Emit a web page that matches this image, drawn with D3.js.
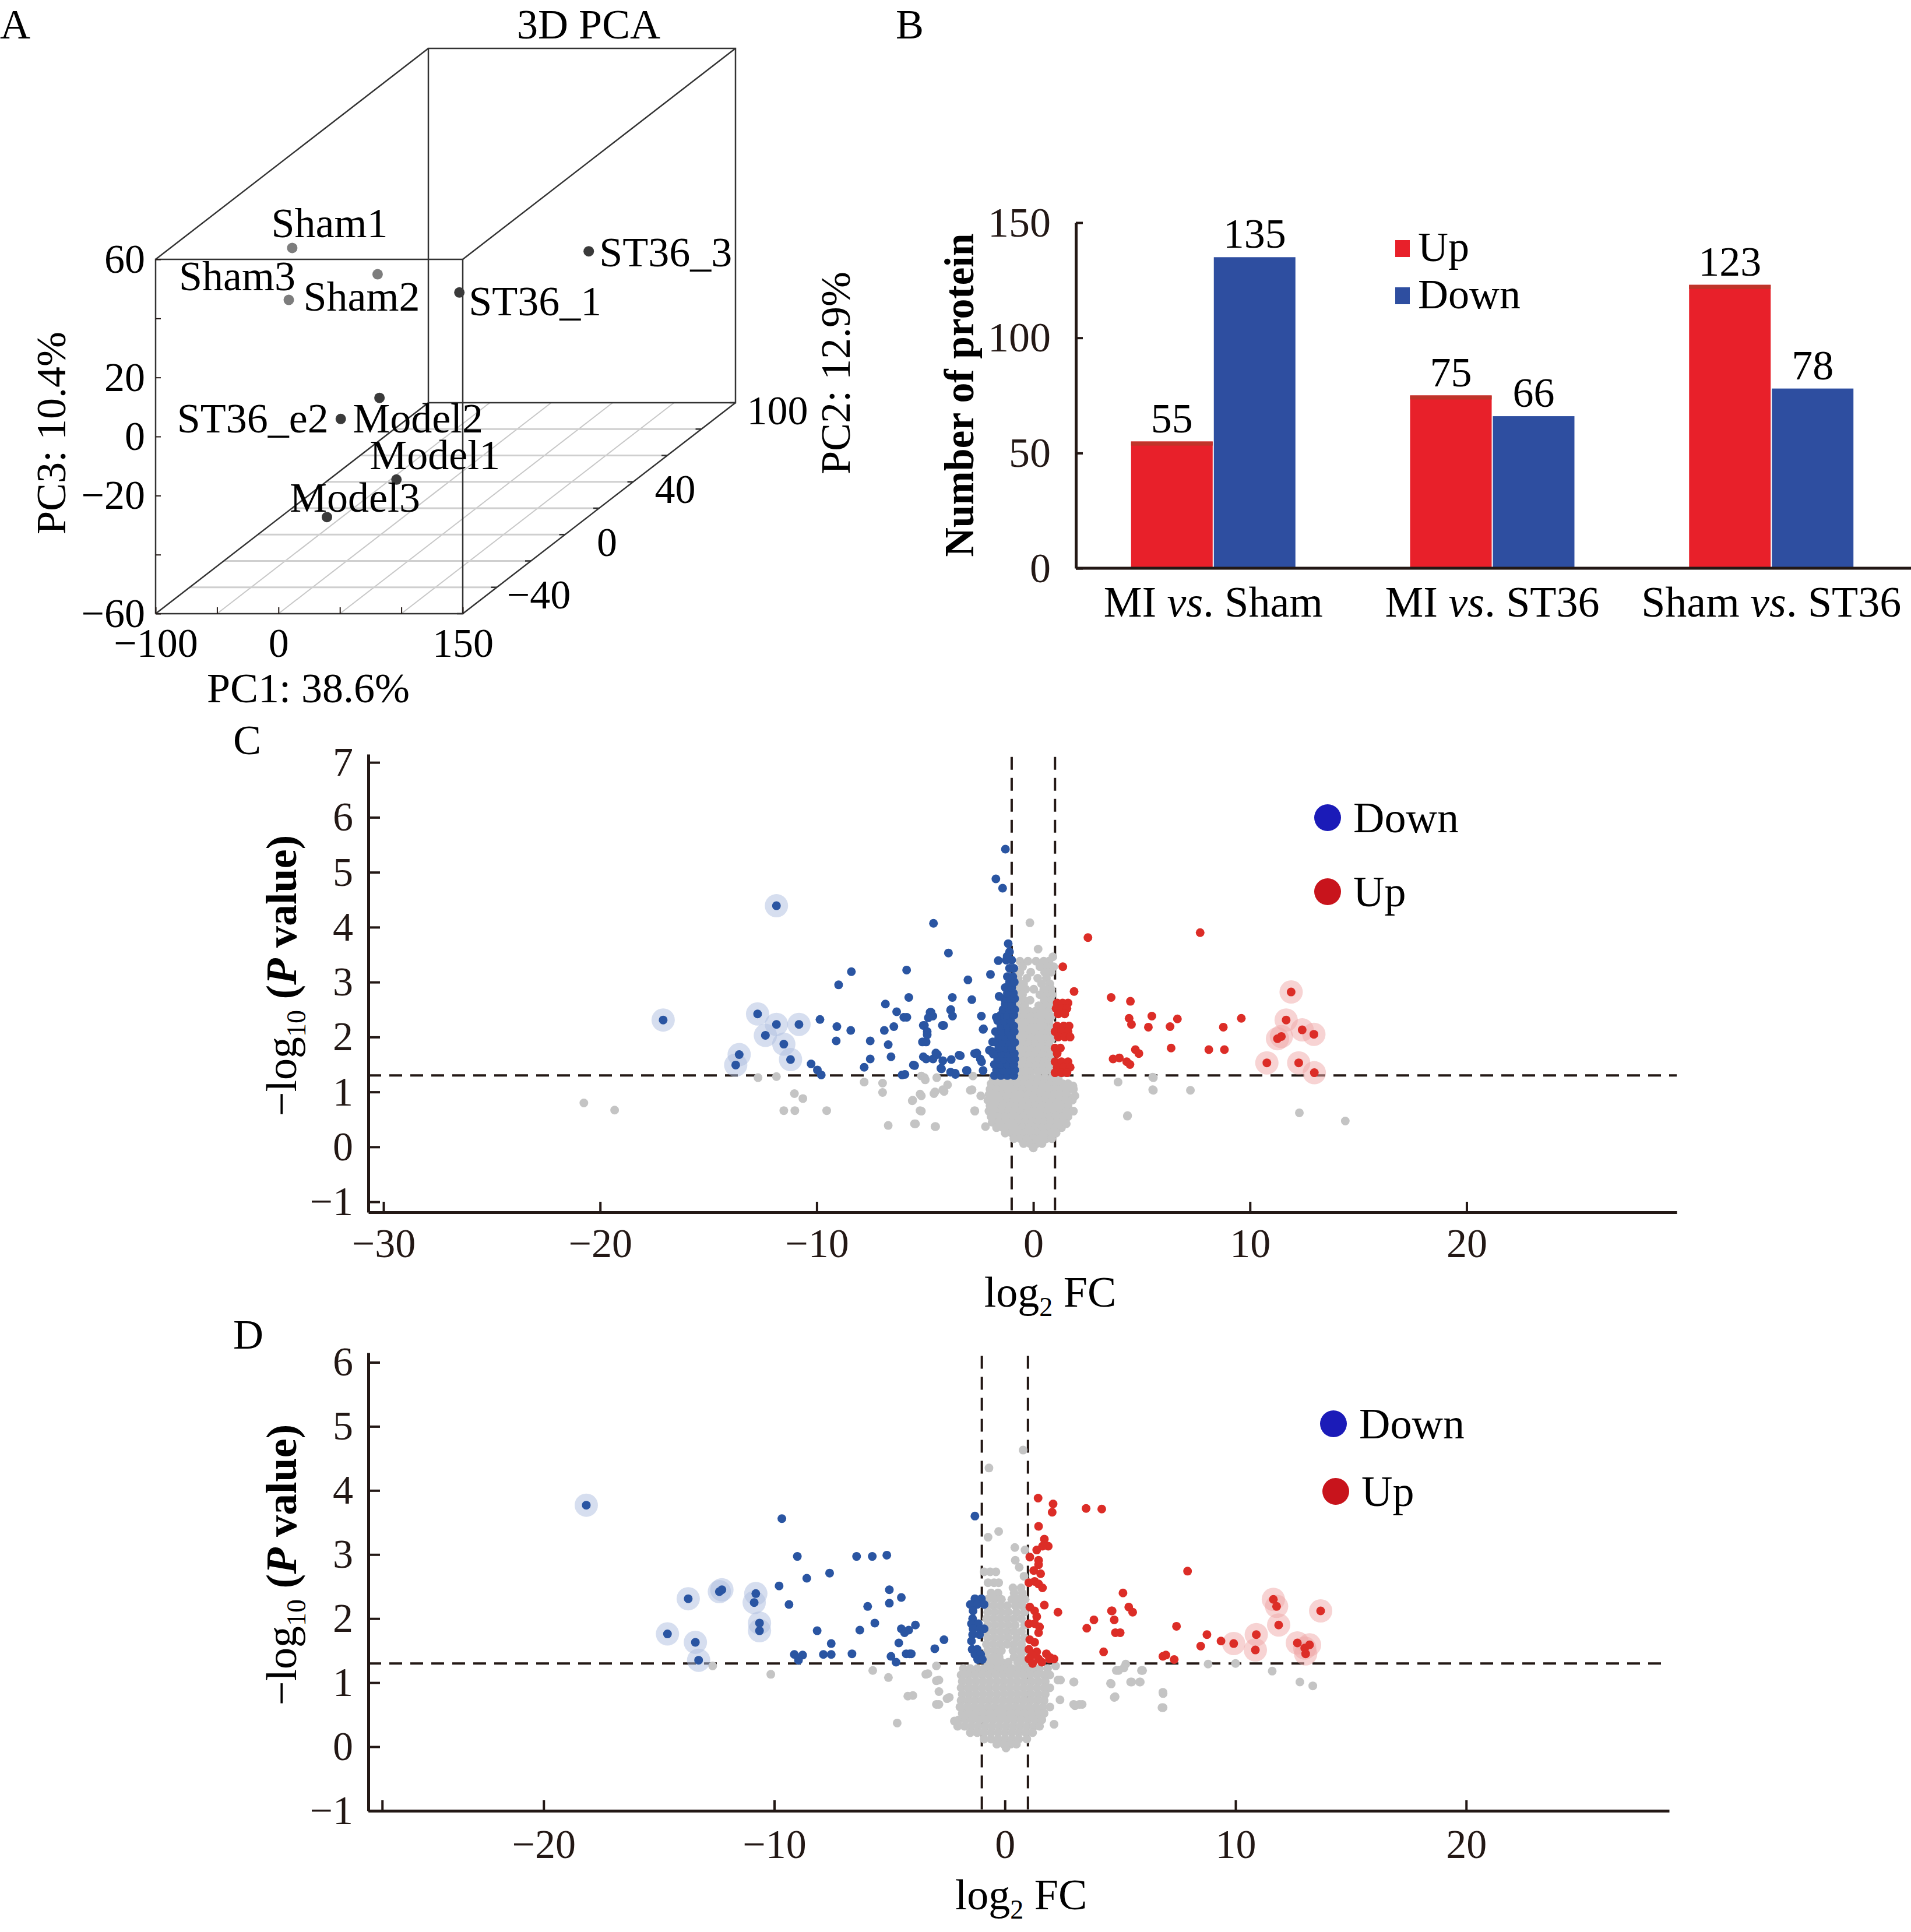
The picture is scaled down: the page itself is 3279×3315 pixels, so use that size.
<!DOCTYPE html>
<html><head><meta charset="utf-8">
<script src="https://cdn.jsdelivr.net/npm/d3@7"></script>
<style>body{margin:0;background:#fff}svg{display:block}</style>
</head><body>
<svg id="c" width="3279" height="3315"></svg>
<script>
// ================= DATA =================
// Panel A: 3D PCA
const pcaSamples = ["Sham1","Sham2","Sham3","ST36_1","ST36_3","Model2","ST36_e2","Model1","Model3"];
const pcaGroups  = ["Sham","Sham","Sham","ST36","ST36","Model","ST36","Model","Model"];
const pc1Values  = [-44.3,-47.1,25.2,64.0,58.3,40.6,-4.8,68.3,11.7];
const pc2Values  = [-20,-20,-20,0,80,-30,-20,-40,-40];
const pc3Values  = [46.0,28.4,37.1,22.0,0.2,-0.3,-11.9,-23.5,-36.2];
const pc1Ticks = [-100,-50,0,50,100,150], pc1Labeled = [-100,0,150];
const pc2Ticks = [-60,-40,-20,0,20,40,60,80,100], pc2Labeled = [-40,0,40,100];
const pc3Ticks = [-60,-40,-20,0,20,40,60], pc3Labeled = [-60,-20,0,20,60];

// Panel B: bar chart
const comparisons = ["MI vs. Sham","MI vs. ST36","Sham vs. ST36"];
const regulation = ["Up","Down"];
const upCounts = [55,75,123];
const downCounts = [135,66,78];
const barTicks = [0,50,100,150];

// Panel C: volcano (log2FC, -log10 P)
const blueHaloC = [[-17.09,2.31],[-11.86,4.39],[-12.73,2.42],[-11.86,2.23],[-10.82,2.23],[-12.37,2.03],[-11.52,1.87],[-11.21,1.59],[-13.58,1.68],[-13.74,1.49]];
const blueC = [[-1.29,5.42],[-1.73,4.88],[-1.42,4.71],[-4.61,4.07],[-3.92,3.53],[-1.16,3.70],[-8.40,3.19],[-5.85,3.22],[-8.99,2.95],[-3.02,3.04],[-1.98,3.14],[-1.62,3.39],[-1.21,3.47],[-5.75,2.72],[-6.83,2.60],[-2.84,2.68],[-3.74,2.72],[-3.81,2.50],[-6.31,2.46],[-5.98,2.36],[-9.85,2.32],[-9.07,2.19],[-8.43,2.12],[-6.88,2.12],[-6.44,2.19],[-5.03,2.21],[-4.64,2.38],[-4.77,2.45],[-4.20,2.21],[-4.90,2.04],[-2.32,2.14],[-2.40,2.38],[-9.10,1.93],[-7.53,1.93],[-6.70,1.86],[-4.95,1.91],[-1.88,1.91],[-7.53,1.60],[-6.57,1.64],[-7.81,1.45],[-4.95,1.60],[-4.43,1.68],[-4.18,1.57],[-3.43,1.67],[-3.79,1.59],[-5.54,1.49],[-6.06,1.31],[-4.24,1.42],[-3.61,1.34],[-3.09,1.39],[-2.71,1.70],[-2.45,1.60],[-1.93,1.74],[-10.26,1.51],[-9.97,1.40],[-9.79,1.31],[-2.32,1.39],[-4.72,2.45],[-4.85,2.35],[-5.08,2.21],[-4.90,2.10],[-4.14,2.21],[-5.12,1.91],[-5.84,2.36],[-2.30,2.15],[-1.71,2.36],[-5.08,1.64],[-4.63,1.60],[-4.50,1.71],[-4.27,1.43],[-3.82,1.36],[-3.60,1.32],[-3.37,1.66],[-3.06,1.39],[-2.61,1.71],[-2.39,1.55],[-2.03,1.76],[-1.85,1.69],[-5.48,1.48],[-5.93,1.32],[-3.82,2.49],[-3.73,2.38],[-1.58,2.74]];
const blueColumnC = [[1.30,-1.8,-1.5,-1.2,-0.9],[1.40,-1.7,-1.4,-1.1,-0.86],[1.50,-1.8,-1.5,-1.2,-0.9],[1.60,-1.65,-1.35,-1.05,-0.86],[1.70,-1.75,-1.45,-1.15,-0.88],[1.80,-1.6,-1.3,-1.0],[1.90,-1.7,-1.4,-1.1,-0.86],[2.00,-1.6,-1.3,-1.0],[2.10,-1.75,-1.45,-1.15,-0.88],[2.20,-1.5,-1.2,-0.9],[2.30,-1.65,-1.35,-1.05],[2.40,-1.5,-1.2,-0.9],[2.50,-1.4,-1.1,-0.86],[2.60,-1.3,-1.0],[2.70,-1.35,-1.05,-0.86],[2.80,-1.2,-0.92],[2.90,-1.3,-1.0],[3.00,-1.1,-0.88],[3.10,-1.2,-0.95],[3.25,-1.1,-0.9],[3.40,-1.25,-1.0],[3.55,-1.1]];
const redHaloC = [[11.90,2.82],[11.67,2.31],[11.27,1.97],[11.45,2.01],[12.41,2.13],[12.95,2.05],[10.78,1.53],[12.25,1.53],[12.97,1.35]];
const redC = [[2.52,3.81],[7.70,3.90],[1.36,3.28],[1.88,2.83],[3.59,2.72],[4.48,2.65],[4.42,2.34],[4.53,2.23],[5.47,2.38],[5.31,2.18],[6.31,2.19],[6.65,2.33],[8.77,2.18],[9.60,2.34],[6.36,1.80],[8.10,1.77],[8.82,1.77],[4.71,1.77],[4.87,1.70],[3.68,1.60],[3.97,1.62],[4.31,1.55],[4.46,1.50]];
const redColumnC = [[2.62,1.1,1.35,1.6],[2.52,1.05,1.3,1.55],[2.42,1.15,1.45],[2.20,1.1,1.4,1.65],[2.10,1.0,1.3,1.6],[2.00,1.15,1.45,1.7],[1.80,1.0,1.25],[1.70,1.1],[1.55,1.0,1.3,1.6],[1.45,1.1,1.4,1.7],[1.35,1.0,1.3,1.55]];
const grayC = [[-20.75,0.80],[-19.33,0.67],[-12.71,1.26],[-11.86,1.28],[-11.03,0.97],[-10.64,0.88],[-11.52,0.66],[-11.01,0.66],[-9.54,0.66],[-7.81,1.18],[-6.96,1.16],[-6.96,0.99],[-6.70,0.39],[-5.49,0.42],[-5.59,0.84],[-5.23,0.96],[-5.23,0.66],[-4.51,0.37],[-4.59,0.97],[-4.12,1.01],[-5.03,1.26],[-4.46,1.26],[-2.91,1.03],[-2.71,0.66],[3.91,1.18],[5.54,1.26],[5.54,1.03],[7.25,1.03],[4.35,0.57],[12.28,0.62],[14.40,0.47],[-5.17,1.29],[-4.99,1.22],[-4.54,1.00],[-4.18,1.04],[-3.96,1.13],[-5.17,0.93],[-5.57,0.85],[-5.17,0.65],[-5.44,0.42],[-4.54,0.37],[-2.79,1.29],[-2.83,1.04],[-2.43,0.93],[-2.70,0.65],[-2.21,0.37],[1.83,1.11],[1.92,0.93],[1.56,0.65],[1.83,0.65],[1.52,0.42],[5.51,1.27],[5.51,1.04],[4.34,0.56]];
const grayCloudC = [[4.08,-0.16],[3.60,0.22],[3.46,0.9],[3.38,-0.62,-0.25,0.12,0.48,0.72],[3.28,-0.5,0.3,0.62,0.94],[3.18,-0.62,-0.12,0.52,0.82],[3.07,-0.7,-0.3,0.2,0.6],[2.97,-0.76,-0.45,0.38,0.76],[2.87,-0.72,-0.35,0.02,0.48,0.82],[2.77,-0.76,-0.5,0.3,0.62,0.86],[2.67,-0.8,-0.45,-0.15,0.5,0.8],[2.57,-0.75,-0.4,0.25,0.6,0.85],[2.47,-0.8,-0.5,-0.2,0.1,0.4,0.7],[2.37,-0.76,-0.45,-0.12,0.2,0.55,0.82],[2.27,-0.8,-0.5,-0.2,0.12,0.42,0.72],[2.17,-0.76,-0.44,-0.1,0.22,0.55,0.84],[2.07,-0.8,-0.5,-0.2,0.1,0.4,0.7],[1.97,-0.76,-0.44,-0.12,0.2,0.52,0.84],[1.87,-0.8,-0.5,-0.2,0.1,0.42,0.72],[1.77,-0.76,-0.46,-0.14,0.2,0.52,0.84],[1.67,-0.8,-0.5,-0.2,0.12,0.42,0.74],[1.57,-0.76,-0.44,-0.12,0.22,0.54,0.84],[1.47,-0.8,-0.5,-0.2,0.1,0.42,0.72],[1.37,-0.78,-0.46,-0.14,0.2,0.52,0.84],[1.25,-1.85,-1.55,-1.25,-0.95,-0.65,-0.35,-0.05,0.25,0.55,0.85,1.15],[1.15,-1.95,-1.65,-1.35,-1.05,-0.75,-0.45,-0.15,0.15,0.45,0.75,1.05,1.35,1.6],[1.05,-2.0,-1.7,-1.4,-1.1,-0.8,-0.5,-0.2,0.1,0.4,0.7,1.0,1.3,1.6,1.85],[0.95,-2.05,-1.75,-1.45,-1.15,-0.85,-0.55,-0.25,0.05,0.35,0.65,0.95,1.25,1.55],[0.85,-2.1,-1.8,-1.5,-1.2,-0.9,-0.6,-0.3,0.0,0.3,0.6,0.9,1.2,1.5,1.8],[0.75,-2.0,-1.7,-1.4,-1.1,-0.8,-0.5,-0.2,0.1,0.4,0.7,1.0,1.3,1.6],[0.65,-2.05,-1.75,-1.45,-1.15,-0.85,-0.55,-0.25,0.05,0.35,0.65,0.95,1.25,1.55,1.85],[0.55,-1.95,-1.65,-1.35,-1.05,-0.75,-0.45,-0.15,0.15,0.45,0.75,1.05,1.35,1.6],[0.45,-1.9,-1.6,-1.3,-1.0,-0.7,-0.4,-0.1,0.2,0.5,0.8,1.1,1.4],[0.35,-1.7,-1.4,-1.1,-0.8,-0.5,-0.2,0.1,0.4,0.7,1.0,1.3],[0.25,-1.3,-1.0,-0.7,-0.4,-0.1,0.2,0.5,0.8,1.05],[0.15,-0.9,-0.6,-0.3,0.0,0.3,0.6,0.85],[0.06,-0.45,-0.15,0.15,0.4],[-0.02,0.0]];
const xTicksC = [-30,-20,-10,0,10,20], yTicksC = [-1,0,1,2,3,4,5,6,7];

// Panel D: volcano
const blueHaloD = [[-18.15,3.77],[-13.73,2.31],[-12.38,2.42],[-12.27,2.45],[-10.80,2.39],[-10.87,2.25],[-14.63,1.76],[-13.42,1.63],[-13.28,1.35],[-10.64,1.93],[-10.64,1.81]];
const blueD = [[-9.67,3.56],[-9.00,2.97],[-7.60,2.71],[-8.59,2.63],[-6.43,2.97],[-5.75,2.97],[-5.12,2.99],[-9.79,2.51],[-9.36,2.22],[-5.01,2.45],[-4.49,2.33],[-5.01,2.24],[-5.95,2.19],[-5.64,1.93],[-6.29,1.82],[-8.14,1.81],[-4.49,1.84],[-4.17,1.82],[-3.88,1.90],[-4.60,1.62],[-7.53,1.61],[-7.53,1.44],[-7.87,1.44],[-9.13,1.44],[-8.77,1.43],[-8.95,1.35],[-6.63,1.45],[-4.94,1.41],[-4.72,1.32],[-4.28,1.45],[-4.06,1.45],[-3.04,1.53],[-2.64,1.67],[-1.30,3.60],[-4.13,1.45],[-4.35,1.78]];
const blueColumnD = [[2.31,-1.3,-1.02],[2.22,-1.5,-1.2,-0.9],[2.12,-1.38],[2.00,-1.4],[1.92,-1.45,-1.15],[1.84,-1.38,-1.08,-0.9],[1.75,-1.4,-1.1],[1.65,-1.45],[1.52,-1.42,-1.2],[1.44,-1.3,-1.05],[1.36,-1.18,-0.98]];
const redHaloD = [[9.92,1.61],[10.90,1.75],[10.86,1.51],[11.64,2.30],[11.78,2.19],[11.87,1.90],[13.69,2.12],[12.68,1.62],[13.00,1.54],[13.21,1.59],[13.04,1.45]];
const redD = [[1.44,3.88],[2.09,3.79],[2.05,3.66],[3.52,3.72],[4.20,3.71],[1.46,3.44],[1.71,3.24],[1.88,3.13],[1.63,3.13],[1.38,3.07],[1.08,2.96],[1.46,2.91],[1.46,2.84],[1.04,2.56],[1.29,2.58],[1.46,2.54],[1.63,2.48],[1.71,2.21],[2.30,2.10],[1.08,2.18],[1.29,2.12],[1.38,2.03],[1.04,1.92],[1.29,1.92],[1.50,1.87],[1.46,1.78],[1.08,1.67],[1.29,1.63],[1.04,1.52],[1.38,1.48],[1.80,1.45],[1.97,1.39],[2.13,1.37],[1.04,1.37],[1.46,1.37],[1.17,1.43],[3.55,1.85],[3.86,1.98],[4.62,2.12],[4.74,1.98],[4.79,1.78],[5.00,1.78],[5.12,2.40],[5.37,2.18],[5.54,2.10],[4.28,1.48],[6.85,1.41],[7.92,2.74],[7.44,1.88],[8.76,1.75],[8.49,1.57],[9.37,1.65],[6.98,1.43],[7.34,1.36],[1.93,1.37],[4.65,2.12],[1.20,1.30],[1.60,1.32],[1.25,2.75],[1.55,2.70]];
const grayD = [[0.79,4.63],[-0.69,4.35],[-0.27,3.36],[-0.73,3.27],[0.43,3.11],[0.87,3.07],[0.45,2.91],[0.62,2.80],[0.83,2.66],[8.81,1.29],[10.0,1.30],[11.59,1.18],[12.79,1.01],[13.35,0.95],[4.93,1.19],[5.24,1.29],[5.97,1.19],[5.45,1.01],[5.87,1.01],[4.61,0.98],[4.78,0.78],[3.0,1.01],[6.86,0.83],[6.86,0.61],[3.04,0.64],[3.35,0.66],[2.2,1.26],[2.41,1.04],[-12.67,1.26],[-10.15,1.13],[-5.73,1.19],[-5.05,1.08],[-4.67,0.37],[-3.99,0.80],[-3.43,1.13],[-2.86,1.04],[-2.86,0.86],[-2.41,0.77],[-2.86,0.66],[-2.19,0.40],[-1.74,0.49],[-1.74,1.13],[-1.56,0.92],[-3.34,1.14],[-2.97,1.26],[-2.97,1.03],[-4.21,0.79],[-2.97,0.66],[-2.51,0.75],[-2.08,0.39],[2.98,1.01],[2.98,0.66],[3.23,0.66],[2.39,0.73],[2.30,1.04],[2.13,0.35],[4.83,1.19],[5.16,1.23],[5.92,1.19],[4.58,0.99],[5.50,1.01],[5.84,1.01],[4.74,0.77],[6.85,0.85],[6.81,0.61]];
const grayCloudD = [[2.73,-0.9,-0.64,-0.39],[2.56,-0.73,-0.47,-0.27],[2.48,0.35,0.7],[2.40,-0.6,-0.3,0.4,0.75],[2.30,-0.75,-0.45,-0.15,0.3,0.6,0.88],[2.20,-0.8,-0.5,-0.2,0.1,0.45,0.75],[2.10,-0.75,-0.45,-0.15,0.15,0.5,0.85],[2.00,-0.8,-0.5,-0.2,0.1,0.4,0.72],[1.90,-0.75,-0.45,-0.15,0.15,0.45,0.85],[1.80,-0.8,-0.5,-0.2,0.1,0.4,0.72],[1.70,-0.75,-0.45,-0.15,0.15,0.5,0.85],[1.60,-0.8,-0.5,-0.2,0.1,0.4,0.72],[1.50,-0.75,-0.45,-0.15,0.35,0.65,0.88],[1.40,-0.8,-0.5,-0.25,0.4,0.7],[1.32,-0.75,-0.45,-0.15,0.15,0.55,0.85],[1.22,-1.8,-1.5,-1.2,-0.9,-0.6,-0.3,0.0,0.3,0.6,0.9,1.2,1.5,1.85],[1.12,-1.9,-1.6,-1.3,-1.0,-0.7,-0.4,-0.1,0.2,0.5,0.8,1.1,1.4,1.7,1.95],[1.02,-1.85,-1.55,-1.25,-0.95,-0.65,-0.35,-0.05,0.25,0.55,0.85,1.15,1.45,1.75],[0.92,-1.9,-1.6,-1.3,-1.0,-0.7,-0.4,-0.1,0.2,0.5,0.8,1.1,1.4,1.7,1.95],[0.82,-1.85,-1.55,-1.25,-0.95,-0.65,-0.35,-0.05,0.25,0.55,0.85,1.15,1.45,1.75],[0.72,-1.9,-1.6,-1.3,-1.0,-0.7,-0.4,-0.1,0.2,0.5,0.8,1.1,1.4,1.7],[0.62,-1.95,-1.65,-1.35,-1.05,-0.75,-0.45,-0.15,0.15,0.45,0.75,1.05,1.35,1.65,1.95],[0.52,-1.85,-1.55,-1.25,-0.95,-0.65,-0.35,-0.05,0.25,0.55,0.85,1.15,1.45,1.7],[0.42,-2.0,-1.7,-1.4,-1.1,-0.8,-0.5,-0.2,0.1,0.4,0.7,1.0,1.3,1.6],[0.32,-2.05,-1.75,-1.45,-1.15,-0.85,-0.55,-0.25,0.05,0.35,0.65,0.95,1.25,1.5],[0.22,-1.5,-1.2,-0.9,-0.6,-0.3,0.0,0.3,0.6,0.9,1.2],[0.12,-0.9,-0.6,-0.3,0.0,0.3,0.6,0.95],[0.04,-0.35,-0.05,0.25,0.5],[-0.02,0.05]];
const xTicksD = [-27,-20,-10,0,10,20], xLabeledD = [-20,-10,0,10,20], yTicksD = [-1,0,1,2,3,4,5,6];
const fcCut = 1, pCut = 1.3;

// ================= STYLE / LAYOUT =================
const FONT = '"Liberation Serif","Times New Roman",Times,serif';
const INK = "#231815";
const FS = 70;
const svg = d3.select("#c");
const fmt = d3.format("d");
const rowsToPoints = rows => rows.flatMap(([yv,...xs]) => xs.map(xv => [xv,yv]));

function txt(g, x, y, s, o={}) {
  return g.append("text").attr("x",x).attr("y",y).text(s)
    .attr("font-family",FONT).attr("font-size",o.size||FS).attr("fill",o.fill||"#000")
    .attr("text-anchor",o.anchor||"start").attr("font-weight",o.weight||"normal")
    .attr("font-style",o.style||"normal");
}
function styleAxis(g, w) {
  g.attr("font-family",FONT).attr("font-size",FS);
  g.selectAll("text").attr("fill",INK).attr("font-size",FS);
  g.selectAll(".domain").attr("stroke",INK).attr("stroke-width",w);
  g.selectAll(".tick line").attr("stroke",INK).attr("stroke-width",w*0.8);
}

// ================= PANEL A =================
(function(){
  const g = svg.append("g");
  const x = d3.scaleLinear([-100,150],[267,794]);
  const z = d3.scaleLinear([-60,60],[1053,445]);
  const d = d3.scaleLinear([-60,100],[0,1]);
  const depth = [468,-362];
  const P = (a,b,c) => { const f = d(b); return [x(a)+f*depth[0], z(c)+f*depth[1]]; };
  const [x0,x1] = x.domain(), [y0,y1] = d.domain(), [z0,z1] = z.domain();
  const line = d3.line();
  // floor grid
  pc1Ticks.filter(v=>v>x0&&v<x1).forEach(v=>{
    g.append("path").attr("d",line([P(v,y0,z0),P(v,y1,z0)])).attr("stroke","#c8c8c8").attr("stroke-width",2).attr("fill","none");
  });
  pc2Ticks.filter(v=>v>y0&&v<y1).forEach(v=>{
    g.append("path").attr("d",line([P(x0,v,z0),P(x1,v,z0)])).attr("stroke","#cfcfcf").attr("stroke-width",3).attr("fill","none");
  });
  // box
  const faces = [
    [[x0,y0,z0],[x1,y0,z0],[x1,y0,z1],[x0,y0,z1],[x0,y0,z0]],
    [[x0,y1,z0],[x1,y1,z0],[x1,y1,z1],[x0,y1,z1],[x0,y1,z0]],
    [[x0,y0,z0],[x0,y1,z0]],[[x1,y0,z0],[x1,y1,z0]],[[x0,y0,z1],[x0,y1,z1]],[[x1,y0,z1],[x1,y1,z1]]
  ];
  faces.forEach(f=>g.append("path").attr("d",line(f.map(p=>P(...p)))).attr("stroke","#333").attr("stroke-width",2.5).attr("fill","none"));
  // axes
  g.append("g").attr("transform",`translate(${x(x0)},0)`)
    .call(d3.axisLeft(z).tickValues(pc3Ticks).tickSize(-9).tickSizeOuter(0).tickPadding(18)
      .tickFormat(v=>pc3Labeled.includes(v)?fmt(v):""))
    .call(a=>a.select(".domain").remove()).call(a=>styleAxis(a,2.5));
  g.append("g").attr("transform",`translate(0,${z(z0)})`)
    .call(d3.axisBottom(x).tickValues(pc1Ticks).tickSize(-11).tickSizeOuter(0).tickPadding(24)
      .tickFormat(v=>pc1Labeled.includes(v)?fmt(v):""))
    .call(a=>a.select(".domain").remove()).call(a=>styleAxis(a,2.5));
  g.selectAll("g text").attr("fill","#000");
  pc2Ticks.forEach(v=>{
    const p = P(x1,v,z0);
    g.append("line").attr("x1",p[0]).attr("y1",p[1]).attr("x2",p[0]-10).attr("y2",p[1]).attr("stroke","#333").attr("stroke-width",2.5);
    if (pc2Labeled.includes(v)) txt(g,p[0]+72,p[1]+13,fmt(v),{anchor:"middle"}).attr("dominant-baseline","central");
  });
  // points
  const labelPlacement = [["start",-36,-18],["start",25,18],["end",-141,27],["start",16,39],["start",18,26],["start",-46,59],["end",-21,23],["start",-46,-18],["start",-64,-9]];
  pcaSamples.forEach((s,i)=>{
    const p = P(pc1Values[i],pc2Values[i],pc3Values[i]);
    g.append("circle").attr("cx",p[0]).attr("cy",p[1]).attr("r",9).attr("fill",pcaGroups[i]==="Sham"?"#7d7d7d":"#3a3a3a");
  });
  pcaSamples.forEach((s,i)=>{
    const p = P(pc1Values[i],pc2Values[i],pc3Values[i]);
    const [an,dx,dy] = labelPlacement[i];
    txt(g,p[0]+dx,p[1]+dy,s,{anchor:an,size:72});
  });
  txt(g,0,66,"A",{size:72});
  txt(g,1010,66,"3D PCA",{anchor:"middle",size:72});
  txt(g,529,1205,"PC1: 38.6%",{anchor:"middle",size:72});
  txt(g,0,0,"PC3: 10.4%",{anchor:"middle",size:72}).attr("transform","translate(112,743) rotate(-90)").attr("x",0).attr("y",0);
  txt(g,0,0,"PC2: 12.9%",{anchor:"middle",size:72}).attr("transform","translate(1458,640) rotate(-90)").attr("x",0).attr("y",0);
})();

// ================= PANEL B =================
(function(){
  const g = svg.append("g");
  const x0 = d3.scaleBand(comparisons,[1744,3377]).padding(0.411);
  const x1 = d3.scaleBand(regulation,[0,x0.bandwidth()]).paddingInner(0.014);
  const y = d3.scaleLinear([0,150],[975,382]);
  const colors = {Up:"#e8202a",Down:"#2e4ea0"};
  const rows = comparisons.map((c,i)=>({c, Up:upCounts[i], Down:downCounts[i]}));
  rows.forEach(r=>{
    regulation.forEach(k=>{
      const bx = x0(r.c)+x1(k);
      g.append("rect").attr("x",bx).attr("y",y(r[k])).attr("width",x1.bandwidth()).attr("height",y(0)-y(r[k])).attr("fill",colors[k]);
      if(k==="Up") g.append("rect").attr("x",bx).attr("y",y(r[k])).attr("width",x1.bandwidth()).attr("height",7).attr("fill","#c0342a");
      txt(g,bx+x1.bandwidth()/2,y(r[k])-16,String(r[k]),{anchor:"middle",size:72});
    });
  });
  g.append("g").attr("transform","translate(1846,0)")
    .call(d3.axisLeft(y).tickValues(barTicks).tickSize(-12).tickSizeOuter(0).tickPadding(43).tickFormat(fmt))
    .call(a=>styleAxis(a,5)).call(a=>a.selectAll("text").attr("font-size",72));
  g.append("line").attr("x1",1846).attr("x2",3279).attr("y1",y(0)).attr("y2",y(0)).attr("stroke",INK).attr("stroke-width",5);
  comparisons.forEach(c=>{
    const parts = c.split(" vs. ");
    const t = txt(g,x0(c)+x0.bandwidth()/2,1058,"",{anchor:"middle",size:74});
    t.append("tspan").text(parts[0]+" ");
    t.append("tspan").attr("font-style","italic").text("vs");
    t.append("tspan").text(". "+parts[1]);
  });
  txt(g,0,0,"Number of protein",{anchor:"middle",size:72,weight:"bold"})
    .attr("transform","translate(1670,678) rotate(-90)").attr("textLength",555).attr("lengthAdjust","spacingAndGlyphs");
  regulation.forEach((k,i)=>{
    g.append("rect").attr("x",2394).attr("y",412+i*81).attr("width",25).attr("height",29).attr("fill",colors[k]);
    txt(g,2433,448+i*81,k,{size:72});
  });
  txt(g,1537,66,"B",{size:72});
})();

// ================= PANELS C & D =================
function volcano(cfg){
  const g = svg.append("g");
  const x = d3.scaleLinear(cfg.xDomain,cfg.xRange);
  const y = d3.scaleLinear(cfg.yDomain,cfg.yRange);
  const dash = {stroke:INK,"stroke-width":4,"stroke-dasharray":"22,14"};
  const dl = (x1,y1,x2,y2)=>{const l=g.append("line").attr("x1",x1).attr("y1",y1).attr("x2",x2).attr("y2",y2);Object.entries(dash).forEach(([k,v])=>l.attr(k,v));};
  [-fcCut,fcCut].forEach(v=>dl(x(v),y(cfg.vTop),x(v),cfg.yRange[0]));
  dl(cfg.xRange[0],y(pCut),cfg.xRange[1],y(pCut));
  const dot = (arr,fill,r,op=1)=>g.append("g").selectAll("circle").data(arr).join("circle")
    .attr("cx",d=>x(d[0])).attr("cy",d=>y(d[1])).attr("r",r).attr("fill",fill).attr("fill-opacity",op);
  dot(rowsToPoints(cfg.grayCloud),"#c4c4c4",7.5);
  dot(cfg.gray,"#c4c4c4",7.5);
  dot(cfg.blueHalo,"#aebde0",20,0.5);
  dot(cfg.redHalo,"#f0a8a8",20,0.5);
  dot(rowsToPoints(cfg.blueColumn),"#2a55a2",7.5);
  dot(cfg.blue.concat(cfg.blueHalo),"#2a55a2",7.5);
  dot(cfg.red.concat(cfg.redHalo),"#dc2d27",7.5);
  dot(rowsToPoints(cfg.redColumn),"#dc2d27",7.5);
  g.append("g").attr("transform",`translate(0,${cfg.yRange[0]})`)
    .call(d3.axisBottom(x).tickValues(cfg.xTicks).tickSize(-18).tickSizeOuter(0).tickPadding(cfg.xPad)
      .tickFormat(v=>cfg.xLabeled.includes(v)?fmt(v):""))
    .call(a=>styleAxis(a,5));
  g.append("g").attr("transform",`translate(${cfg.xRange[0]},0)`)
    .call(d3.axisLeft(y).tickValues(cfg.yTicks).tickSize(-20).tickSizeOuter(0).tickPadding(26).tickFormat(fmt))
    .call(a=>styleAxis(a,5));
  // legend
  [["Down","#1b1bb8"],["Up","#c8141c"]].forEach(([k,c],i)=>{
    const [lx,ly] = cfg.legend[i];
    g.append("circle").attr("cx",lx).attr("cy",ly).attr("r",23).attr("fill",c);
    txt(g,lx+44,ly,k,{size:74}).attr("dominant-baseline","central");
  });
  // axis titles
  const xt = txt(g,cfg.xTitle[0],cfg.xTitle[1],"",{anchor:"middle",size:74});
  xt.append("tspan").text("log");
  xt.append("tspan").attr("font-size",46).attr("dy",16).text("2");
  xt.append("tspan").attr("dy",-16).text(" FC");
  const yt = txt(g,0,0,"",{anchor:"middle",size:74}).attr("transform",`translate(${cfg.yTitle[0]},${cfg.yTitle[1]}) rotate(-90)`);
  yt.append("tspan").text("\u2212log");
  yt.append("tspan").attr("font-size",46).attr("dy",16).text("10");
  yt.append("tspan").attr("dy",-16).text(" ");
  yt.append("tspan").attr("font-weight","bold").text("(");
  yt.append("tspan").attr("font-weight","bold").attr("font-style","italic").text("P");
  yt.append("tspan").attr("font-weight","bold").text(" value)");
  txt(g,400,cfg.letterY,cfg.letter,{size:72});
}
volcano({xDomain:[-30.7,29.7],xRange:[632,2877],yDomain:[-1.19,7.15],yRange:[2080,1294],vTop:7.1,xPad:27,
  xTicks:xTicksC,xLabeled:xTicksC,yTicks:yTicksC,grayCloud:grayCloudC,gray:grayC,blueHalo:blueHaloC,redHalo:redHaloC,
  blue:blueC,red:redC,blueColumn:blueColumnC,redColumn:redColumnC,legend:[[2278,1403],[2278,1530]],
  xTitle:[1802,2242],yTitle:[508,1674],letter:"C",letterY:1294});
volcano({xDomain:[-27.6,28.8],xRange:[632,2864],yDomain:[-1.0,6.15],yRange:[3107,2321],vTop:6.1,xPad:31,
  xTicks:xTicksD,xLabeled:xLabeledD,yTicks:yTicksD,grayCloud:grayCloudD,gray:grayD,blueHalo:blueHaloD,redHalo:redHaloD,
  blue:blueD,red:redD,blueColumn:blueColumnD,redColumn:[],legend:[[2288,2443],[2292,2559]],
  xTitle:[1752,3276],yTitle:[508,2685],letter:"D",letterY:2314});
</script>
</body></html>
